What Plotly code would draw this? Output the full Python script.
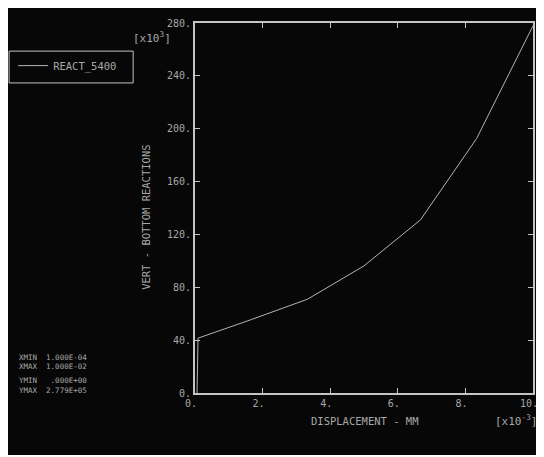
import plotly.graph_objects as go

# data (displacement x10^-3, reaction x10^3)
disp = [0.06, 0.09, 1.67, 3.33, 5.0, 6.67, 8.33, 10.0]
force = [0.0, 41.5, 55.6, 71.0, 96.2, 131.0, 192.5, 277.9]
series_name = "REACT_5400"
x_ticks = [0, 2, 4, 6, 8, 10]
x_tick_labels = ["0.", "2.", "4.", "6.", "8.", "10."]
y_ticks = [0, 40, 80, 120, 160, 200, 240, 280]
y_tick_labels = ["0.", "40.", "80.", "120.", "160.", "200.", "240.", "280."]
stats = ["XMIN  1.000E-04", "XMAX  1.000E-02", "YMIN   .000E+00", "YMAX  2.779E+05"]

fg = "#c4c4c4"
txt = "#a8a8a8"
bg = "#070707"
mono = "DejaVu Sans Mono"

fig = go.Figure()
fig.add_trace(go.Scatter(x=disp, y=force, mode="lines", name=series_name,
                         line=dict(color="#b4b4b4", width=1)))

axis_common = dict(showgrid=False, zeroline=False, showline=True, linecolor=fg, linewidth=2,
                   mirror="ticks", ticks="inside", ticklen=5, tickcolor=fg, tickwidth=1,
                   automargin=False,
                   tickfont=dict(family=mono, size=10, color=txt))

fig.update_xaxes(range=[0, 10], tickvals=x_ticks, ticktext=x_tick_labels,
                 ticklabelshift=-4, **axis_common)
fig.update_yaxes(range=[0, 280], tickvals=y_ticks, ticktext=y_tick_labels, **axis_common)

ann = []
ann.append(dict(text="DISPLACEMENT - MM", xref="paper", yref="paper", x=0.5, y=-0.055,
                xanchor="center", yanchor="top", showarrow=False,
                font=dict(family=mono, size=10.5, color=txt)))
ann.append(dict(text="VERT - BOTTOM REACTIONS", xref="paper", yref="paper", x=-0.145, y=0.476,
                xanchor="center", yanchor="middle", textangle=-90, showarrow=False,
                font=dict(family=mono, size=10.5, color=txt)))
ann.append(dict(text="[x10<sup>3</sup>]", xref="paper", yref="paper", x=-0.065, y=0.96,
                xanchor="right", yanchor="middle", showarrow=False,
                font=dict(family=mono, size=11, color=txt)))
ann.append(dict(text="[x10<sup>-3</sup>]", xref="paper", yref="paper", x=1.018, y=-0.073,
                xanchor="right", yanchor="middle", showarrow=False,
                font=dict(family=mono, size=11, color=txt)))
stat_y = [0.0946, 0.0703, 0.0351, 0.0081]
for s, yy in zip(stats, stat_y):
    ann.append(dict(text=s.replace(" ", "&nbsp;"), xref="paper", yref="paper", x=-0.527, y=yy,
                    xanchor="left", yanchor="middle", align="left", showarrow=False,
                    font=dict(family=mono, size=7.5, color=txt)))

fig.update_layout(
    width=531, height=447,
    margin=dict(l=187, r=6, t=15, b=62, autoexpand=False),
    paper_bgcolor=bg, plot_bgcolor=bg,
    showlegend=True,
    legend=dict(x=-0.538, y=0.924, xanchor="left", yanchor="top",
                bgcolor="rgba(0,0,0,0)", borderwidth=0,
                font=dict(family=mono, size=10.5, color=txt), itemwidth=30,
                tracegroupgap=0),
    shapes=[dict(type="rect", xref="paper", yref="paper",
                 x0=-0.550, x1=-0.183, y0=0.838, y1=0.924,
                 line=dict(color=fg, width=1), fillcolor="rgba(0,0,0,0)")],
    annotations=ann,
)

fig.write_html("out.html")
